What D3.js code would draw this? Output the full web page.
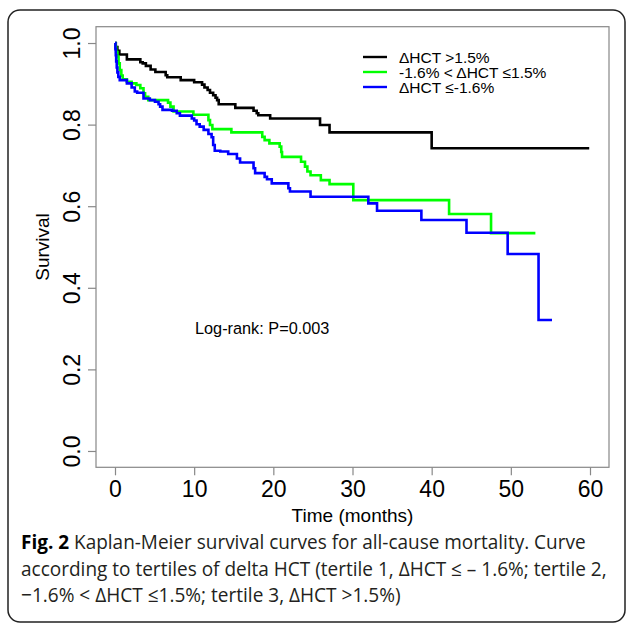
<html>
  <head>
    <style>
      body { margin: 0; background: #fff; }
      svg { display: block; font-family: "Liberation Sans", Arial, sans-serif; }
    </style>
  </head>
  <body>
    <svg></svg>
    <script src="https://d3js.org/d3.v7.min.js"></script>
    <script>
      let width = 627,
        height = 626;

      // Kaplan-Meier steps (time in months, survival)
      let hiTime = [0, 0.1, 0.3, 0.55, 1.5, 3.2, 3.5, 3.9, 4.5, 5.1, 6.4, 6.6, 8.3, 10.0, 11.0, 11.3, 11.7, 12.0, 12.4, 12.7, 12.9, 13.1, 15.2, 17.5, 17.9, 18.1, 19.6, 25.9, 27.1, 40.0, 59.9];
      let hiSurv = [1.0, 0.99, 0.981, 0.972, 0.96, 0.953, 0.95, 0.944, 0.935, 0.929, 0.921, 0.916, 0.909, 0.904, 0.898, 0.891, 0.885, 0.878, 0.872, 0.866, 0.86, 0.85, 0.841, 0.834, 0.828, 0.823, 0.815, 0.799, 0.781, 0.742, 0.742];

      let midTime = [0, 0.05, 0.15, 0.3, 0.45, 0.6, 0.8, 0.97, 1.5, 2.1, 2.7, 3.2, 3.6, 3.8, 4.2, 6.7, 7.0, 7.4, 9.9, 11.8, 12.0, 12.3, 14.7, 18.6, 18.9, 19.5, 20.8, 21.0, 21.1, 23.5, 24.0, 24.3, 24.7, 26.0, 27.1, 30.1, 42.2, 47.5, 53.1];
      let midSurv = [1.0, 0.99, 0.978, 0.966, 0.95, 0.934, 0.92, 0.911, 0.905, 0.901, 0.897, 0.889, 0.877, 0.868, 0.86, 0.854, 0.844, 0.832, 0.824, 0.811, 0.799, 0.789, 0.781, 0.77, 0.762, 0.754, 0.746, 0.733, 0.721, 0.709, 0.697, 0.685, 0.676, 0.664, 0.654, 0.615, 0.581, 0.534, 0.534];

      let loTime = [0, 0.05, 0.1, 0.15, 0.22, 0.3, 0.42, 0.6, 1.5, 2.1, 2.5, 2.8, 3.6, 4.4, 5.05, 5.5, 5.7, 6.0, 7.2, 7.8, 8.2, 9.7, 10.0, 10.3, 10.7, 11.2, 11.8, 12.2, 12.4, 12.6, 13.3, 14.3, 15.4, 15.8, 17.5, 17.7, 18.9, 19.2, 19.8, 21.9, 22.1, 24.7, 32.0, 33.1, 38.7, 44.4, 49.6, 53.5, 55.2];
      let loSurv = [1.0, 0.985, 0.97, 0.955, 0.94, 0.928, 0.917, 0.909, 0.901, 0.891, 0.881, 0.878, 0.864, 0.86, 0.856, 0.85, 0.844, 0.836, 0.834, 0.828, 0.822, 0.815, 0.81, 0.801, 0.795, 0.787, 0.777, 0.769, 0.75, 0.736, 0.734, 0.728, 0.717, 0.707, 0.693, 0.681, 0.672, 0.666, 0.656, 0.644, 0.636, 0.623, 0.607, 0.589, 0.566, 0.535, 0.483, 0.321, 0.321];

      let groupNames = ["\u0394HCT >1.5%", "-1.6% < \u0394HCT \u22641.5%", "\u0394HCT \u2264-1.6%"];
      let groupColors = ["#000000", "#00ff00", "#0000ff"];
      let xTicks = [0, 10, 20, 30, 40, 50, 60];
      let yTicks = [0, 0.2, 0.4, 0.6, 0.8, 1.0];
      let pText = "Log-rank: P=0.003";
      let captionBold = "Fig. 2";
      let captionLines = [
        " Kaplan-Meier survival curves for all-cause mortality. Curve",
        "according to tertiles of delta HCT (tertile 1, \u0394HCT \u2264 \u2013 1.6%; tertile 2,",
        "\u22121.6% < \u0394HCT \u22641.5%; tertile 3, \u0394HCT >1.5%)"
      ];

      let svg = d3.select("svg").attr("width", width).attr("height", height);

      // outer figure frame
      svg.append("rect")
        .attr("x", 8).attr("y", 10)
        .attr("width", 617).attr("height", 612)
        .attr("rx", 12)
        .attr("fill", "none")
        .attr("stroke", "#222")
        .attr("stroke-width", 1.5);

      let x = d3.scaleLinear().domain([-2.4, 62.4]).range([96, 609]);
      let y = d3.scaleLinear().domain([-0.04, 1.04]).range([467.3, 26.7]);

      // plot box
      svg.append("rect")
        .attr("x", x(-2.4)).attr("y", y(1.04))
        .attr("width", x(62.4) - x(-2.4))
        .attr("height", y(-0.04) - y(1.04))
        .attr("fill", "none")
        .attr("stroke", "#888")
        .attr("stroke-width", 1.2);

      // x axis
      let xAxis = svg.append("g")
        .attr("transform", `translate(0,${y(-0.04)})`)
        .call(d3.axisBottom(x).tickValues(xTicks).tickSize(8).tickPadding(5).tickFormat(d3.format("d")));
      xAxis.select(".domain").remove();
      xAxis.selectAll("line").attr("stroke", "#888").attr("stroke-width", 1.2);
      xAxis.selectAll("text")
        .attr("font-size", 23)
        .attr("font-family", "Liberation Sans, Arial, sans-serif")
        .attr("fill", "#000");

      // y axis, labels rotated like R's default
      let yAxis = svg.append("g")
        .attr("transform", `translate(${x(-2.4)},0)`)
        .call(d3.axisLeft(y).tickValues(yTicks).tickSize(8).tickFormat(d3.format(".1f")));
      yAxis.select(".domain").remove();
      yAxis.selectAll("line").attr("stroke", "#888").attr("stroke-width", 1.2);
      yAxis.selectAll("text")
        .attr("font-size", 23)
        .attr("font-family", "Liberation Sans, Arial, sans-serif")
        .attr("fill", "#000")
        .attr("x", null).attr("dy", null)
        .attr("text-anchor", "middle")
        .attr("transform", "translate(-16,0) rotate(-90)");

      svg.append("text")
        .attr("x", (x(-2.4) + x(62.4)) / 2).attr("y", 522)
        .attr("text-anchor", "middle")
        .attr("font-size", 19)
        .text("Time (months)");

      svg.append("text")
        .attr("transform", `translate(49,${(y(-0.04) + y(1.04)) / 2}) rotate(-90)`)
        .attr("text-anchor", "middle")
        .attr("font-size", 19)
        .text("Survival");

      // curves
      let line = d3.line()
        .x((d) => x(d[0]))
        .y((d) => y(d[1]))
        .curve(d3.curveStepAfter);

      let curves = [
        d3.zip(hiTime, hiSurv),
        d3.zip(midTime, midSurv),
        d3.zip(loTime, loSurv)
      ];

      svg.append("g")
        .selectAll("path")
        .data(curves)
        .enter()
        .append("path")
        .attr("d", (d) => line(d))
        .attr("fill", "none")
        .attr("stroke", (d, i) => groupColors[i])
        .attr("stroke-width", 2.6);

      // legend
      let legend = svg.append("g");
      groupNames.forEach((name, i) => {
        legend.append("line")
          .attr("x1", 363).attr("x2", 387)
          .attr("y1", 57 + i * 15).attr("y2", 57 + i * 15)
          .attr("stroke", groupColors[i])
          .attr("stroke-width", 2.4);
        legend.append("text")
          .attr("x", 399).attr("y", 62.5 + i * 15)
          .attr("font-size", 15.5)
          .text(name);
      });

      svg.append("text")
        .attr("x", 195).attr("y", 334)
        .attr("font-size", 16.3)
        .text(pText);

      // caption, squeezed to the column width
      let capWidths = [565, 586, 380];
      let capY = [549, 576, 602];
      captionLines.forEach((txt, i) => {
        let t = svg.append("text")
          .style("font-family", "'Open Sans', 'Noto Sans', sans-serif")
          .attr("font-size", 20)
          .attr("fill", "#231f20");
        if (i === 0) {
          t.append("tspan").attr("font-weight", "bold").attr("fill", "#000").text(captionBold);
        }
        t.append("tspan").text(txt);
        let w = t.node().getBBox().width;
        t.attr("transform", `translate(21,${capY[i]}) scale(${capWidths[i] / w},1)`);
      });
    </script>
  </body>
</html>
